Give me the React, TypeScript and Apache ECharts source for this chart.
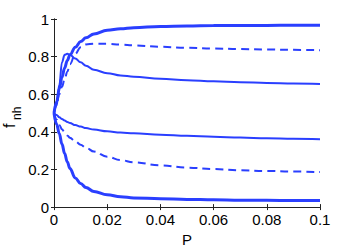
import React, { useEffect, useRef } from "react";
import * as echarts from "echarts";

const P = [0, 0.001, 0.002, 0.003, 0.004, 0.005, 0.006, 0.008, 0.01, 0.012, 0.015, 0.02, 0.025, 0.03, 0.04, 0.05, 0.06, 0.07, 0.08, 0.09, 0.1];

const thickUp = [0.5, 0.56, 0.63, 0.69, 0.74, 0.78, 0.81, 0.85, 0.88, 0.9, 0.92, 0.94, 0.948, 0.954, 0.96, 0.963, 0.965, 0.966, 0.966, 0.967, 0.967];
const thinPeak = [0.5, 0.54, 0.65, 0.77, 0.81, 0.815, 0.81, 0.79, 0.77, 0.752, 0.73, 0.712, 0.7, 0.693, 0.682, 0.675, 0.669, 0.664, 0.66, 0.657, 0.655];
const dashedUp = [0.5, 0.55, 0.6, 0.64, 0.68, 0.72, 0.76, 0.815, 0.85, 0.865, 0.869, 0.868, 0.864, 0.86, 0.852, 0.847, 0.843, 0.84, 0.838, 0.836, 0.834];
const thinDown = [0.5, 0.49, 0.478, 0.468, 0.46, 0.453, 0.447, 0.436, 0.428, 0.42, 0.412, 0.403, 0.396, 0.392, 0.385, 0.379, 0.374, 0.37, 0.366, 0.363, 0.361];
const dashedDown = [0.5, 0.465, 0.437, 0.414, 0.396, 0.381, 0.369, 0.349, 0.332, 0.316, 0.295, 0.268, 0.25, 0.238, 0.222, 0.21, 0.202, 0.196, 0.192, 0.189, 0.186];
const thickDown = [0.5, 0.44, 0.39, 0.335, 0.285, 0.24, 0.205, 0.155, 0.125, 0.104, 0.083, 0.065, 0.055, 0.049, 0.044, 0.041, 0.039, 0.037, 0.036, 0.035, 0.035];

const xTicks = [0, 0.02, 0.04, 0.06, 0.08, 0.1];
const yTicks = [0, 0.2, 0.4, 0.6, 0.8, 1];

const BLUE = "#2a3fff";
const FONT = "Liberation Sans, Arial, sans-serif";

function mk(vals: number[], width: number, dashed: boolean) {
  return {
    type: "line",
    data: P.map((p, i) => [p, vals[i]]),
    showSymbol: false,
    smooth: 0.4,
    smoothMonotone: "x",
    lineStyle: { color: BLUE, width, type: dashed ? [8, 5] : "solid" },
    xAxisIndex: 0,
    yAxisIndex: 0,
    z: 3,
  };
}

function fmt(v: number) {
  return String(Math.round(v * 100) / 100);
}

export default function App() {
  const ref = useRef<HTMLDivElement>(null);
  useEffect(() => {
    const chart = echarts.init(ref.current!, undefined, { renderer: "svg" });
    const axisLine = { show: true, lineStyle: { color: "#222", width: 1 } };
    const tick = { show: true, inside: true, length: 3, lineStyle: { color: "#222" } };
    chart.setOption({
      animation: false,
      grid: { left: 54, top: 19, width: 266, height: 195, containLabel: false },
      xAxis: [
        {
          type: "value", min: 0, max: 0.1, interval: 0.02, position: "bottom",
          axisLine, axisTick: tick, splitLine: { show: false },
          axisLabel: { color: "#000", fontSize: 15, fontFamily: FONT, margin: 5, formatter: fmt, showMaxLabel: true },
          name: "P", nameLocation: "middle", nameGap: 24,
          nameTextStyle: { color: "#000", fontSize: 15, fontFamily: FONT },
        },
        {
          type: "value", min: 0, max: 0.1, interval: 0.02, position: "top",
          axisLine, axisTick: tick, splitLine: { show: false }, axisLabel: { show: false },
        },
      ],
      yAxis: [
        {
          type: "value", min: 0, max: 1, interval: 0.2, position: "left",
          axisLine, axisTick: tick, splitLine: { show: false },
          axisLabel: { color: "#000", fontSize: 15, fontFamily: FONT, margin: 5, formatter: fmt },
        },
        {
          type: "value", min: 0, max: 1, interval: 0.2, position: "right",
          axisLine, axisTick: tick, splitLine: { show: false }, axisLabel: { show: false },
        },
      ],
      graphic: [
        {
          type: "group",
          x: 14,
          y: 128,
          rotation: Math.PI / 2,
          children: [
            { type: "text", x: 0, y: 3, style: { text: "f", font: `16px ${FONT}`, fill: "#000", align: "left", verticalAlign: "bottom" } },
            { type: "text", x: 8, y: 9, style: { text: "nh", font: `12px ${FONT}`, fill: "#000", align: "left", verticalAlign: "bottom" } },
          ],
        },
      ],
      series: [
        mk(thickUp, 3, false),
        mk(thinPeak, 2, false),
        mk(dashedUp, 2, true),
        mk(thinDown, 2, false),
        mk(dashedDown, 2, true),
        mk(thickDown, 3, false),
      ],
    });
    return () => chart.dispose();
  }, []);
  return <div ref={ref} style={{ width: 354, height: 252, position: "absolute", left: 0, top: 0 }} />;
}
